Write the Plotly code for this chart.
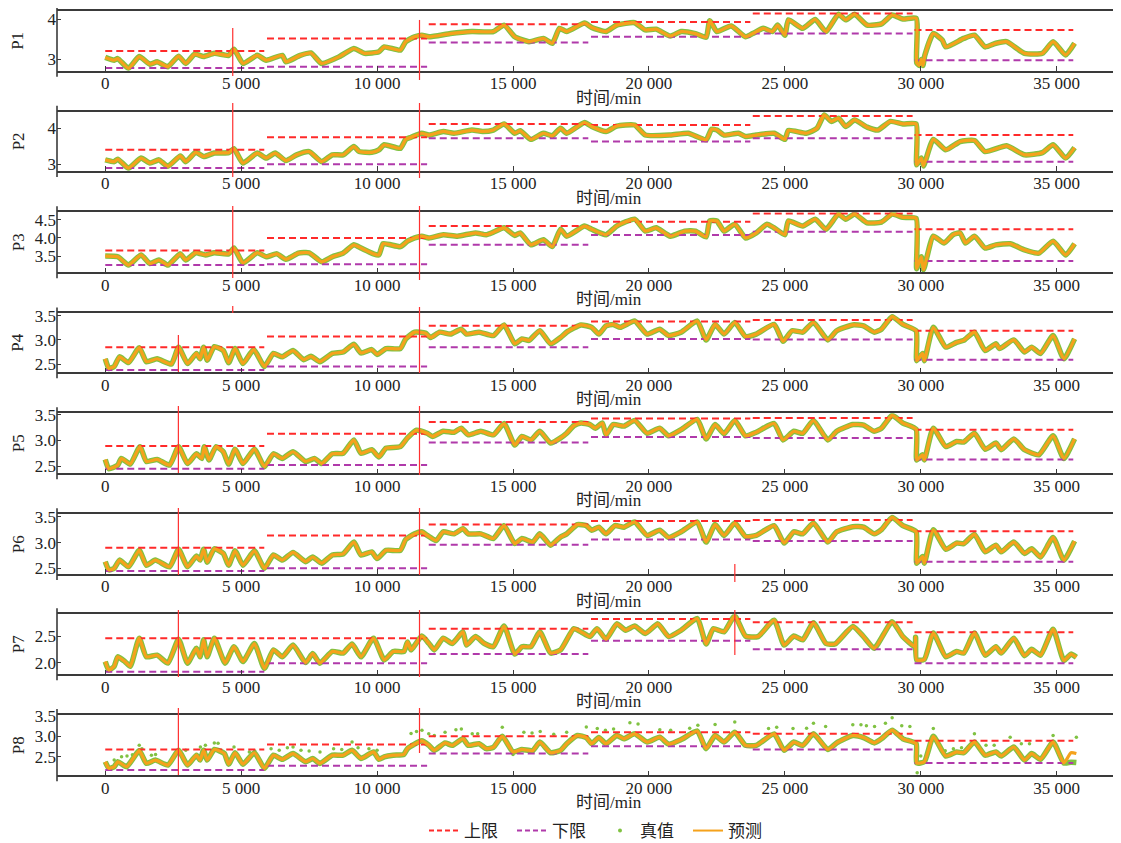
import plotly.graph_objects as go

# ---------------- data ----------------
PANELS = ["P1", "P2", "P3", "P4", "P5", "P6", "P7", "P8"]
X_TICKS = [0, 5000, 10000, 15000, 20000, 25000, 30000, 35000]

# limit segments (minutes)
SEG_START = [0, 5950, 11900, 17870, 23820, 29770]
SEG_END = [5850, 11840, 17770, 23730, 29700, 35610]

UPPER = {
    "P1": [3.21, 3.52, 3.87, 3.93, 4.14, 3.73],
    "P2": [3.40, 3.75, 4.12, 4.09, 4.34, 3.81],
    "P3": [3.65, 4.00, 4.33, 4.45, 4.68, 4.24],
    "P4": [2.85, 3.07, 3.29, 3.38, 3.41, 3.19],
    "P5": [2.89, 3.13, 3.36, 3.43, 3.44, 3.21],
    "P6": [2.90, 3.14, 3.35, 3.42, 3.44, 3.22],
    "P7": [2.46, 2.46, 2.64, 2.82, 2.76, 2.57],
    "P8": [2.68, 2.80, 3.00, 3.10, 3.06, 2.89],
}
LOWER = {
    "P1": [2.79, 2.82, 3.42, 3.56, 3.64, 2.98],
    "P2": [2.89, 3.00, 3.72, 3.63, 3.72, 3.07],
    "P3": [3.25, 3.27, 3.81, 4.08, 4.17, 3.36],
    "P4": [2.38, 2.45, 2.85, 3.02, 3.01, 2.59],
    "P5": [2.45, 2.52, 2.96, 3.07, 3.05, 2.63],
    "P6": [2.45, 2.50, 2.96, 3.06, 3.03, 2.63],
    "P7": [1.83, 1.99, 2.16, 2.41, 2.25, 1.99],
    "P8": [2.18, 2.28, 2.58, 2.76, 2.68, 2.35],
}

P1_T = [0, 330, 461, 855, 1250, 1645, 1908, 2303, 2697, 2961, 3290, 3618, 4013, 4539, 4737, 5066, 5592, 5921,
        6513, 6645, 7171, 7566, 7961, 8618, 9145, 9539, 10066, 10263, 10855, 11053, 11382, 11645, 11908, 12697,
        13487, 14276, 14671, 15066, 15592, 16118, 16447, 16710, 16974, 17632, 17895, 18421, 18816, 19474, 19868,
        20263, 20789, 21184, 21711, 22105, 22237, 22500, 23026, 23553, 23816, 24211, 24540, 24737, 25000, 25132,
        25658, 26118, 26513, 26974, 27237, 27566, 28026, 28553, 28947, 29342, 29830, 29850, 29950, 30020, 30080,
        30150, 30461, 30790, 30921, 31579, 31974, 32368, 32763, 33158, 33816, 34474, 34868, 35329, 35658]
P1_V = [3.05, 2.98, 3.02, 2.78, 3.07, 2.88, 2.94, 2.82, 3.08, 2.90, 3.13, 3.07, 3.15, 3.10, 3.25, 2.90, 3.10, 2.98,
        3.10, 2.94, 3.10, 3.16, 2.90, 3.07, 3.27, 3.15, 3.19, 3.31, 3.23, 3.44, 3.56, 3.60, 3.56, 3.64,
        3.69, 3.69, 3.85, 3.56, 3.44, 3.52, 3.40, 3.77, 3.69, 3.90, 3.79, 3.69, 3.85, 3.91, 3.73,
        3.75, 3.58, 3.69, 3.64, 3.55, 3.96, 3.69, 3.83, 3.56, 3.64, 3.77, 3.69, 3.85, 3.60, 3.98,
        3.77, 3.99, 3.69, 4.12, 3.98, 4.12, 3.85, 3.88, 4.10, 4.00, 4.02, 2.92, 2.85, 3.00, 2.85,
        3.10, 3.64, 3.48, 3.31, 3.52, 3.60, 3.31, 3.40, 3.44, 3.15, 3.15, 3.44, 3.11, 3.40]

P2_T = [0, 329, 461, 855, 1316, 1645, 1974, 2303, 2763, 2961, 3329, 3618, 4013, 4539, 4737, 5066, 5592, 5921,
        6250, 6645, 7040, 7500, 7961, 8355, 8750, 9145, 9342, 9803, 10066, 10263, 10855, 11053, 11250, 11645,
        11908, 12434, 12829, 13487, 13882, 14276, 14671, 15066, 15263, 15658, 16118, 16447, 16750, 16974, 17632,
        17895, 18421, 18816, 19474, 19868, 20789, 21447, 22105, 22303, 22500, 22763, 23289, 23553, 23947, 24605,
        25000, 25132, 25790, 26184, 26447, 26711, 26974, 27237, 27566, 28026, 28421, 28882, 29342, 29830, 29850,
        30020, 30100, 30461, 30921, 31447, 31974, 32368, 33158, 33816, 34474, 34868, 35329, 35658]
P2_V = [3.12, 3.07, 3.14, 2.89, 3.17, 3.03, 3.12, 2.94, 3.23, 3.07, 3.33, 3.21, 3.31, 3.32, 3.43, 3.03, 3.31, 3.17,
        3.31, 3.10, 3.26, 3.35, 3.07, 3.26, 3.26, 3.49, 3.35, 3.33, 3.40, 3.54, 3.44, 3.69, 3.75, 3.86,
        3.81, 3.91, 3.86, 3.95, 3.91, 3.95, 4.12, 3.86, 3.93, 3.69, 3.86, 3.79, 4.00, 3.86, 4.16,
        4.05, 3.91, 4.06, 4.09, 3.81, 3.81, 3.86, 3.68, 3.97, 3.95, 3.81, 3.86, 3.77, 3.81, 3.86,
        3.69, 3.94, 3.86, 4.00, 4.37, 4.19, 4.28, 4.05, 4.23, 4.03, 3.95, 4.19, 4.12, 4.12, 2.98,
        3.17, 2.95, 3.69, 3.40, 3.63, 3.66, 3.35, 3.51, 3.26, 3.32, 3.54, 3.17, 3.46]

P3_T = [0, 461, 855, 1316, 1645, 1974, 2303, 2763, 2961, 3329, 3684, 4013, 4539, 4737, 5066, 5592, 5921, 6316,
        6645, 7105, 7500, 7961, 8355, 8750, 9145, 9408, 9868, 10066, 10224, 10855, 11118, 11382, 11645, 11908,
        12434, 12961, 13618, 14013, 14276, 14671, 15066, 15263, 15658, 16118, 16447, 16750, 16974, 17632, 17895,
        18421, 18816, 19474, 19868, 20263, 20789, 21316, 21711, 22105, 22237, 22500, 22763, 23158, 23553, 23947,
        24342, 24605, 25000, 25132, 25658, 26118, 26513, 26974, 27237, 27566, 28026, 28553, 28947, 29342, 29830,
        29850, 30020, 30100, 30461, 30855, 31184, 31447, 31645, 31974, 32368, 32763, 33289, 33816, 34342, 34868,
        35329, 35658]
P3_V = [3.50, 3.48, 3.25, 3.53, 3.29, 3.39, 3.25, 3.56, 3.39, 3.59, 3.53, 3.59, 3.56, 3.72, 3.31, 3.59, 3.48, 3.56,
        3.41, 3.58, 3.59, 3.34, 3.48, 3.58, 3.81, 3.72, 3.56, 3.53, 3.84, 3.76, 3.91, 4.00, 4.05, 4.00,
        4.09, 4.05, 4.14, 4.09, 4.16, 4.28, 4.07, 4.14, 3.81, 3.95, 3.76, 4.24, 4.05, 4.33, 4.24,
        4.09, 4.33, 4.52, 4.19, 4.28, 4.05, 4.19, 4.19, 4.03, 4.47, 4.47, 4.19, 4.38, 4.00, 4.14,
        4.38, 4.28, 4.09, 4.47, 4.33, 4.52, 4.24, 4.66, 4.52, 4.66, 4.42, 4.44, 4.66, 4.57, 4.54,
        3.15, 3.48, 3.12, 4.05, 3.86, 4.09, 4.14, 3.86, 4.05, 3.72, 3.81, 3.84, 3.67, 3.58, 3.91,
        3.53, 3.84]

P4_T = [0, 132, 329, 526, 855, 1250, 1513, 1908, 2434, 2697, 3026, 3355, 3487, 3618, 3750, 4013, 4342, 4539, 4776,
        5066, 5461, 5855, 6184, 6513, 6908, 7303, 7566, 7895, 8355, 8750, 9145, 9408, 9803, 10000, 10329, 10855,
        11053, 11382, 11776, 11974, 12303, 12697, 13092, 13289, 13750, 14276, 14671, 15066, 15329, 15592, 15987,
        16382, 16750, 16974, 17500, 17895, 18158, 18421, 18684, 18947, 19474, 19934, 20395, 20724, 21184, 21776,
        22105, 22434, 22763, 23158, 23553, 23947, 24605, 24934, 25263, 25658, 26053, 26579, 26908, 27500, 27895,
        28289, 28553, 28947, 29342, 29830, 29850, 30066, 30132, 30461, 30921, 31316, 31579, 31974, 32368, 32763,
        32895, 33421, 33816, 34079, 34408, 34868, 35263, 35658]
P4_V = [2.61, 2.41, 2.45, 2.65, 2.53, 2.84, 2.55, 2.61, 2.50, 2.85, 2.51, 2.72, 2.61, 2.85, 2.58, 2.86, 2.78, 2.53, 2.82,
        2.51, 2.80, 2.45, 2.72, 2.65, 2.78, 2.59, 2.66, 2.55, 2.72, 2.75, 2.91, 2.73, 2.80, 2.70, 2.82, 2.82,
        3.02, 3.16, 3.14, 3.05, 3.16, 3.12, 3.22, 3.12, 3.16, 3.09, 3.31, 2.92, 3.02, 2.99, 3.19,
        2.92, 3.05, 3.16, 3.31, 3.26, 3.12, 3.29, 3.32, 3.26, 3.39, 3.12, 3.22, 3.09, 3.16, 3.39,
        3.00, 3.32, 3.12, 3.36, 3.07, 3.12, 3.32, 2.97, 3.19, 3.16, 3.36, 3.00, 3.19, 3.31, 3.29,
        3.16, 3.22, 3.48, 3.32, 3.19, 2.57, 2.72, 2.57, 3.26, 2.85, 2.95, 2.99, 3.16, 2.78, 2.92,
        2.82, 3.00, 2.75, 2.85, 2.72, 3.09, 2.61, 3.02]

P5_T = [0, 132, 461, 592, 921, 1276, 1513, 1908, 2368, 2697, 3026, 3355, 3553, 3645, 3816, 4079, 4342, 4539, 4776,
        5066, 5487, 5855, 6184, 6513, 6908, 7368, 7697, 7961, 8355, 8750, 9145, 9408, 9803, 10066, 10329, 10855,
        11118, 11447, 11842, 12040, 12434, 12829, 13092, 13355, 13816, 14276, 14671, 15066, 15329, 15658, 15987,
        16382, 16750, 16974, 17237, 17500, 17829, 18026, 18289, 18421, 18684, 19079, 19474, 19934, 20395, 20724,
        21184, 21776, 22105, 22434, 22763, 23158, 23553, 23947, 24605, 24934, 25329, 25658, 26053, 26579, 26908,
        27500, 27895, 28289, 28553, 28947, 29342, 29830, 29850, 30066, 30132, 30461, 30921, 31316, 31579, 31974,
        32368, 32763, 32961, 33421, 33816, 34342, 34868, 35263, 35658]
P5_V = [2.63, 2.45, 2.52, 2.65, 2.54, 2.88, 2.59, 2.63, 2.52, 2.88, 2.55, 2.74, 2.65, 2.88, 2.62, 2.88, 2.78, 2.54, 2.83,
        2.55, 2.83, 2.49, 2.74, 2.65, 2.78, 2.59, 2.65, 2.55, 2.74, 2.75, 3.01, 2.75, 2.82, 2.68, 2.85, 2.88,
        3.05, 3.20, 3.14, 3.08, 3.18, 3.16, 3.24, 3.11, 3.18, 3.11, 3.33, 2.91, 3.08, 3.01, 3.18,
        2.95, 3.05, 3.14, 3.29, 3.34, 3.31, 3.24, 3.34, 3.11, 3.31, 3.28, 3.39, 3.14, 3.24, 3.09,
        3.21, 3.41, 3.03, 3.31, 3.13, 3.39, 3.09, 3.16, 3.33, 3.01, 3.18, 3.14, 3.39, 3.01, 3.18,
        3.31, 3.30, 3.18, 3.24, 3.49, 3.34, 3.22, 2.62, 2.72, 2.62, 3.24, 2.88, 2.98, 2.97, 3.14,
        2.83, 2.95, 2.82, 3.03, 2.82, 2.72, 3.09, 2.65, 3.03]

P6_T = [0, 132, 329, 526, 855, 1250, 1513, 1842, 2368, 2697, 3026, 3355, 3487, 3618, 3750, 4013, 4342, 4539, 4776,
        5066, 5487, 5855, 6184, 6513, 6908, 7368, 7632, 7961, 8355, 8750, 9145, 9408, 9803, 10000, 10329, 10855,
        11053, 11382, 11645, 11842, 12171, 12434, 12829, 13158, 13355, 13816, 14276, 14671, 15066, 15329, 15724,
        15987, 16382, 16750, 16974, 17368, 17697, 17895, 18158, 18421, 18750, 19079, 19474, 19934, 20395, 20724,
        21184, 21776, 22105, 22434, 22763, 23158, 23553, 23947, 24605, 24974, 25329, 25658, 26053, 26579, 26908,
        27500, 27895, 28289, 28553, 28947, 29342, 29830, 29850, 30066, 30132, 30461, 30921, 31316, 31579, 31974,
        32368, 32763, 32961, 33421, 33816, 34079, 34408, 34868, 35263, 35658]
P6_V = [2.63, 2.47, 2.50, 2.66, 2.53, 2.85, 2.56, 2.66, 2.53, 2.87, 2.53, 2.74, 2.66, 2.87, 2.62, 2.88, 2.79, 2.56, 2.84,
        2.56, 2.84, 2.50, 2.76, 2.66, 2.81, 2.63, 2.72, 2.60, 2.76, 2.78, 3.01, 2.76, 2.82, 2.69, 2.85, 2.85,
        3.06, 3.17, 3.21, 3.14, 3.04, 3.21, 3.17, 3.27, 3.17, 3.17, 3.08, 3.33, 2.98, 3.08, 3.01,
        3.17, 2.95, 3.11, 3.17, 3.35, 3.33, 3.24, 3.30, 3.17, 3.33, 3.30, 3.40, 3.14, 3.24, 3.10,
        3.21, 3.40, 3.01, 3.35, 3.14, 3.38, 3.12, 3.14, 3.33, 2.99, 3.21, 3.17, 3.38, 3.01, 3.21,
        3.31, 3.30, 3.17, 3.25, 3.49, 3.33, 3.21, 2.60, 2.73, 2.60, 3.25, 2.87, 2.99, 2.98, 3.16,
        2.82, 2.95, 2.82, 3.01, 2.79, 2.88, 2.72, 3.10, 2.66, 3.03]

P7_T = [0, 132, 329, 461, 724, 921, 1250, 1513, 1908, 2303, 2697, 3026, 3355, 3487, 3618, 3750, 4013, 4408, 4737,
        5066, 5487, 5855, 6184, 6513, 6908, 7368, 7632, 7895, 8355, 8750, 9079, 9408, 9868, 10263, 10592, 10987,
        11118, 11250, 11645, 11908, 12105, 12434, 12763, 13158, 13289, 13618, 13947, 14276, 14671, 15066, 15329,
        15658, 15987, 16382, 16750, 17237, 17500, 17829, 18092, 18421, 18816, 19145, 19474, 19868, 20329, 20724,
        21184, 21776, 22105, 22368, 22763, 23158, 23553, 24013, 24605, 24974, 25329, 25658, 26053, 26513, 26842,
        27500, 27895, 28289, 28947, 29342, 29790, 29810, 29850, 30132, 30461, 30921, 31316, 31579, 31974, 32368,
        32763, 32961, 33421, 33816, 34079, 34408, 34868, 35263, 35526, 35724]
P7_V = [2.02, 1.86, 1.93, 2.11, 2.02, 1.93, 2.46, 2.11, 2.14, 1.99, 2.44, 1.99, 2.27, 2.11, 2.43, 2.11, 2.46, 1.99, 2.30,
        2.02, 2.36, 1.89, 2.24, 2.11, 2.33, 2.00, 2.17, 1.99, 2.21, 2.18, 2.35, 2.11, 2.46, 2.05, 2.21, 2.21,
        2.39, 2.24, 2.50, 2.36, 2.24, 2.46, 2.36, 2.58, 2.33, 2.49, 2.36, 2.30, 2.69, 2.16, 2.30,
        2.30, 2.58, 2.18, 2.24, 2.64, 2.58, 2.49, 2.64, 2.44, 2.73, 2.61, 2.69, 2.55, 2.73, 2.49,
        2.61, 2.83, 2.35, 2.64, 2.58, 2.88, 2.50, 2.49, 2.80, 2.33, 2.50, 2.43, 2.75, 2.36, 2.35,
        2.68, 2.49, 2.27, 2.77, 2.49, 2.30, 2.48, 2.05, 2.06, 2.56, 2.11, 2.21, 2.18, 2.56, 2.14,
        2.30, 2.18, 2.46, 2.13, 2.25, 2.14, 2.63, 2.04, 2.16, 2.10]

P8_T = [0, 132, 329, 461, 789, 1250, 1513, 1842, 2303, 2697, 3026, 3355, 3487, 3618, 3750, 4013, 4382, 4539, 4776,
        5066, 5487, 5855, 6184, 6513, 6908, 7368, 7632, 7895, 8355, 8750, 9079, 9408, 9868, 10066, 10263, 10592,
        10987, 11118, 11645, 11908, 12105, 12500, 12763, 13158, 13355, 13750, 14013, 14276, 14605, 15000, 15329,
        15724, 15987, 16382, 16750, 16974, 17368, 17697, 17895, 18158, 18421, 18816, 19079, 19474, 19934, 20395,
        20724, 21184, 21776, 22105, 22434, 22763, 23158, 23553, 23947, 24605, 24974, 25329, 25658, 26053, 26579,
        26908, 27500, 27895, 28289, 28553, 28947, 29342, 29830, 29850, 30132, 30461, 30921, 31316, 31579, 31974,
        32368, 32763, 32961, 33421, 33816, 34079, 34408, 34868, 35263, 35526, 35724]
P8_V = [2.38, 2.22, 2.26, 2.38, 2.26, 2.65, 2.34, 2.42, 2.30, 2.66, 2.30, 2.54, 2.42, 2.66, 2.42, 2.68, 2.58, 2.32, 2.60,
        2.32, 2.60, 2.22, 2.54, 2.44, 2.58, 2.38, 2.46, 2.34, 2.54, 2.54, 2.66, 2.46, 2.62, 2.44, 2.50, 2.54,
        2.56, 2.70, 2.89, 2.78, 2.66, 2.84, 2.78, 2.94, 2.78, 2.82, 2.70, 2.73, 3.00, 2.62, 2.68,
        2.65, 2.86, 2.60, 2.66, 2.82, 3.02, 2.97, 2.82, 2.97, 2.82, 3.02, 2.94, 3.06, 2.86, 2.98,
        2.81, 2.92, 3.13, 2.70, 3.02, 2.86, 3.10, 2.78, 2.78, 3.06, 2.66, 2.86, 2.78, 3.06, 2.68,
        2.84, 3.02, 2.97, 2.84, 2.94, 3.15, 2.94, 2.82, 2.35, 2.38, 3.00, 2.52, 2.62, 2.60, 2.86,
        2.54, 2.62, 2.52, 2.74, 2.42, 2.58, 2.44, 2.86, 2.35, 2.60, 2.58]

# P8 measured values: where they leave the prediction
P8_TRUE_TAIL_T = [35526, 35724]
P8_TRUE_TAIL_V = [2.37, 2.36]
P8_DEV_T = [329, 600, 800, 1000, 1250, 1350, 1700, 1850, 2961, 3500, 3684, 4013, 4150, 4737, 5300, 5500, 6100, 6400,
            6700, 6908, 7200, 7500, 7900, 8400, 8700, 9079, 9300, 9700, 10000, 11250, 11450, 11650, 11900, 12105,
            12500, 12900, 13100, 13500, 13700, 14605, 15000, 15400, 15700, 16000, 16500, 16974, 17697, 18100,
            18400, 18700, 19300, 19600, 20400, 20800, 21500, 21800, 22434, 23158, 24400, 24700, 25300, 25800,
            26053, 26500, 27500, 27800, 28000, 28300, 28700, 28947, 29300, 29600, 29868, 30000, 30461, 30900,
            31200, 31500, 31974, 32400, 32700, 33289, 33700, 34000, 34868, 35724]
P8_DEV_V = [2.42, 2.50, 2.52, 2.55, 2.78, 2.70, 2.54, 2.56, 2.66, 2.74, 2.78, 2.84, 2.83, 2.74, 2.62, 2.64, 2.70, 2.66,
            2.72, 2.74, 2.66, 2.64, 2.62, 2.70, 2.68, 2.86, 2.72, 2.70, 2.66, 3.07, 3.12, 3.15, 3.06, 3.02,
            3.10, 3.16, 3.18, 3.06, 3.06, 3.22, 2.56, 3.10, 3.08, 3.12, 3.05, 3.10, 3.23, 3.19,
            3.15, 3.18, 3.33, 3.30, 3.16, 3.15, 3.20, 3.27, 3.29, 3.35, 3.19, 3.22, 3.19, 3.20,
            3.32, 3.24, 3.28, 3.28, 3.26, 3.24, 3.32, 3.45, 3.26, 3.24, 2.11, 2.52, 3.19, 2.65,
            2.70, 2.72, 3.06, 2.78, 2.78, 2.98, 2.82, 2.82, 3.02, 2.98]

PRED = {"P1": (P1_T, P1_V), "P2": (P2_T, P2_V), "P3": (P3_T, P3_V), "P4": (P4_T, P4_V),
        "P5": (P5_T, P5_V), "P6": (P6_T, P6_V), "P7": (P7_T, P7_V), "P8": (P8_T, P8_V)}

# red event marks (minutes) per panel
MARKS = {
    "P1": [4690, 11560], "P2": [4690, 11560], "P3": [4690, 11560], "P4": [4690, 2690, 11560],
    "P5": [2690, 11560], "P6": [2690, 11560, 23160], "P7": [2690, 11560, 23160], "P8": [2690, 11560],
}

# ---------------- style / layout ----------------
# the page body has an 8 px margin, so the figure is drawn 8 px smaller and all
# reference pixel positions are shifted by that offset
OFF = 8
W, H = 1121 - OFF, 843 - OFF
ML = 57 - OFF
PW = 1121 - 57
TOPS = [11, 111.7, 212.3, 313.3, 413.3, 514.3, 614.3, 715]
BOTS = [70.7, 171, 272.3, 372.3, 473.3, 574, 674.3, 775.3]
Y_RANGES = [[2.72, 4.2], [2.81, 4.46], [3.05, 4.71], [2.33, 3.55], [2.36, 3.53], [2.39, 3.55], [1.78, 2.91], [2.05, 3.52]]
Y_DTICK = [1, 1, 0.5, 0.5, 0.5, 0.5, 0.5, 0.5]
MARK_SPANS = {
    "P1": [(-0.09, 0.715), (-0.156, 0.85)],
    "P2": [(-0.10, 1.147), (-0.118, 1.147)],
    "P3": [(-0.095, 1.105), (-0.128, 1.105)],
    "P4": [(1.005, 1.124), (0.005, 0.632), (-0.012, 1.107)],
    "P5": [(0.005, 1.122), (-0.028, 1.122)],
    "P6": [(-0.017, 1.106), (-0.017, 1.106), (-0.134, 0.168)],
    "P7": [(-0.045, 1.072), (-0.045, 1.072), (0.322, 1.072)],
    "P8": [(0.005, 1.116), (0.37, 1.116)],
}

C_UP = "#ff2a2a"
C_MARK = "#ff3030"
C_LO = "#b03aaa"
C_TRUE = "#80c242"
C_PRED = "#f5a21c"
C_AX = "#3a3a3a"
FONT = "Liberation Serif, Noto Sans CJK SC, serif"
FS = 17
SMOOTH = 0.5

fig = go.Figure()
layout = dict(
    width=W, height=H, margin=dict(l=ML, r=0, t=0, b=0, autoexpand=False),
    paper_bgcolor="white", plot_bgcolor="white",
    separators=". ",
    font=dict(family=FONT, size=FS, color="#222"),
    showlegend=True,
    legend=dict(orientation="h", x=(600 - 57) / PW, xanchor="center",
                y=1 - (831 - OFF) / H, yanchor="middle", font=dict(family=FONT, size=FS),
                itemwidth=30, entrywidth=43, entrywidthmode="pixels",
                tracegroupgap=0, bgcolor="rgba(0,0,0,0)"),
)
shapes, annotations = [], []

for i, name in enumerate(PANELS):
    k = "" if i == 0 else str(i + 1)
    xa, ya = "x" + k, "y" + k
    top, bot = TOPS[i] - OFF, BOTS[i] - OFF
    layout["xaxis" + k] = dict(
        domain=[0, 1], anchor=ya, range=[-1775, 37366], automargin=False,
        tickvals=X_TICKS, separatethousands=True, tickformat=",d",
        ticks="inside", ticklen=5, tickwidth=1.2, tickcolor=C_AX, ticklabelstandoff=-4,
        showline=True, mirror=True, linecolor=C_AX, linewidth=1.6,
        showgrid=False, zeroline=False,
        tickfont=dict(family=FONT, size=FS, color="#222"),
    )
    layout["yaxis" + k] = dict(
        domain=[1 - bot / H, 1 - top / H], anchor=xa, range=Y_RANGES[i], automargin=False,
        dtick=Y_DTICK[i], tick0=0, tickformat="d" if Y_DTICK[i] == 1 else ".1f",
        ticks="inside", ticklen=4, tickwidth=1.2, tickcolor=C_AX,
        showline=False, showgrid=False, zeroline=False,
        tickfont=dict(family=FONT, size=FS, color="#222"),
    )
    # left spine, slightly longer than the frame
    shapes.append(dict(type="line", xref="paper", yref=ya + " domain", x0=0, x1=0, y0=-0.1, y1=1.1,
                       line=dict(color=C_AX, width=1.6)))
    # red event marks
    for tm, (y0, y1) in zip(MARKS[name], MARK_SPANS[name]):
        shapes.append(dict(type="line", xref=xa, yref=ya + " domain", x0=tm, x1=tm, y0=y0, y1=y1,
                           line=dict(color=C_MARK, width=1.2), layer="above"))

    # limits
    ux, uy, lx, ly = [], [], [], []
    for s, e, u, l in zip(SEG_START, SEG_END, UPPER[name], LOWER[name]):
        ux += [s, e, None]; uy += [u, u, None]
        lx += [s, e, None]; ly += [l, l, None]
    t, v = PRED[name]
    tt, tv = list(t), list(v)
    if name == "P8":
        cut = t.index(35263) + 1
        tt = list(t[:cut]) + P8_TRUE_TAIL_T
        tv = list(v[:cut]) + P8_TRUE_TAIL_V
    fig.add_trace(go.Scatter(x=tt, y=tv, mode="lines",
                             line=dict(color=C_TRUE, width=5.5, shape="spline", smoothing=SMOOTH),
                             xaxis=xa, yaxis=ya, showlegend=False, hoverinfo="skip"))
    if name == "P8":
        fig.add_trace(go.Scatter(x=P8_DEV_T, y=P8_DEV_V, mode="markers",
                                 marker=dict(color=C_TRUE, size=3.5), xaxis=xa, yaxis=ya,
                                 showlegend=False, hoverinfo="skip"))
    fig.add_trace(go.Scatter(x=ux, y=uy, mode="lines", line=dict(color=C_UP, width=2, dash="7px,4px"),
                             xaxis=xa, yaxis=ya, showlegend=False, hoverinfo="skip"))
    fig.add_trace(go.Scatter(x=lx, y=ly, mode="lines", line=dict(color=C_LO, width=2, dash="7px,4px"),
                             xaxis=xa, yaxis=ya, showlegend=False, hoverinfo="skip"))
    fig.add_trace(go.Scatter(x=t, y=v, mode="lines",
                             line=dict(color=C_PRED, width=3.2, shape="spline", smoothing=SMOOTH),
                             xaxis=xa, yaxis=ya, showlegend=False, hoverinfo="skip"))

    # panel label and x title
    annotations.append(dict(text=name, xref="paper", yref=ya + " domain", x=(18 - 57) / PW, y=0.5,
                            textangle=-90, showarrow=False, xanchor="center", yanchor="middle",
                            font=dict(family=FONT, size=FS, color="#222")))
    annotations.append(dict(text="时间/min", xref="paper", yref=ya + " domain", x=(609 - 57) / PW, y=0,
                            yanchor="top", xanchor="center", yshift=-16, showarrow=False,
                            font=dict(family=FONT, size=FS, color="#222")))

# legend entries
fig.add_trace(go.Scatter(x=[None], y=[None], mode="lines", name="上限",
                         line=dict(color=C_UP, width=2, dash="5px,3px")))
fig.add_trace(go.Scatter(x=[None], y=[None], mode="lines", name="下限",
                         line=dict(color=C_LO, width=2, dash="5px,3px")))
fig.add_trace(go.Scatter(x=[None], y=[None], mode="markers", name="真值",
                         marker=dict(color=C_TRUE, size=4)))
fig.add_trace(go.Scatter(x=[None], y=[None], mode="lines", name="预测",
                         line=dict(color=C_PRED, width=2)))

layout["shapes"] = shapes
layout["annotations"] = annotations
fig.update_layout(**layout)
fig.write_html("out.html")
